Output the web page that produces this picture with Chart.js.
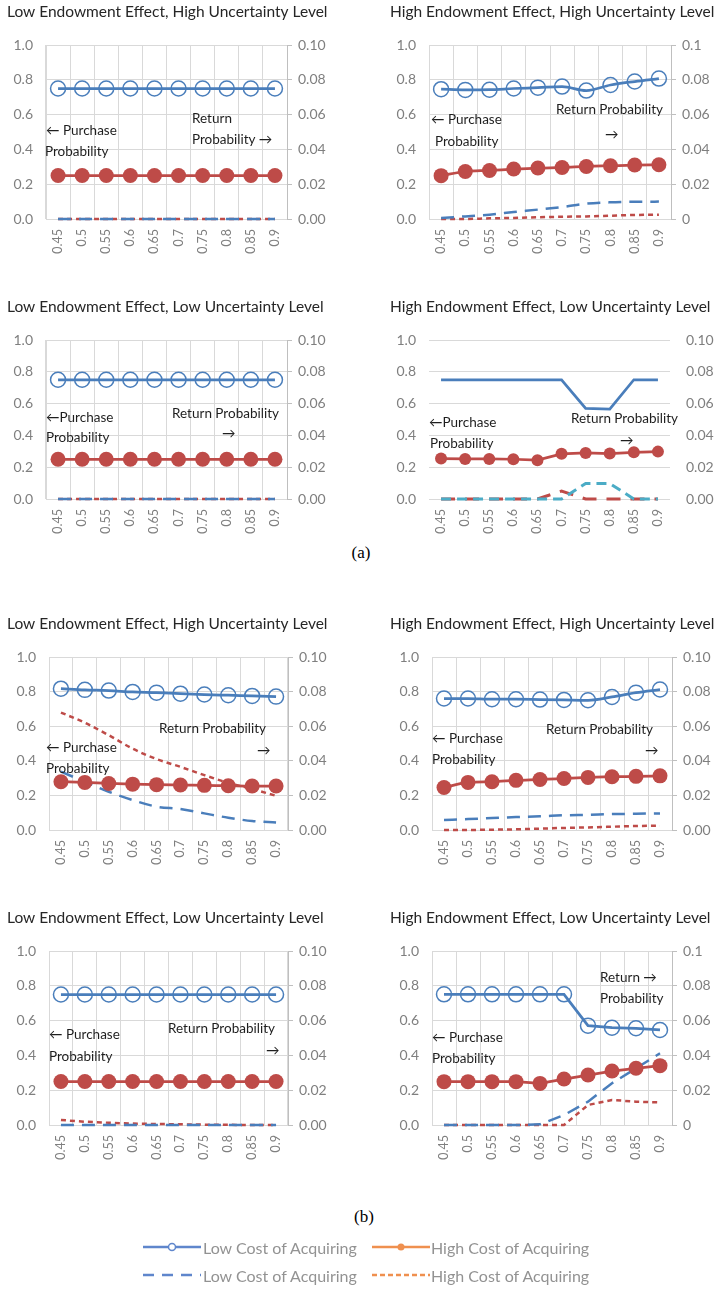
<!DOCTYPE html>
<html>
<head>
<meta charset="utf-8">
<script src="https://cdn.jsdelivr.net/npm/chart.js@4.4.1/dist/chart.umd.min.js"></script>
<style>
  body { margin: 0; background: #fff; width: 722px; height: 1294px; position: relative; overflow: hidden; font-family: Lato, 'Open Sans', sans-serif; }
  canvas { position: absolute; }
  .note { position: absolute; font: 13.5px Lato, 'DejaVu Sans', sans-serif; color: #1e1e1e; white-space: nowrap; transform: translateY(-50%); }
  .cap { position: absolute; font: 17px 'Liberation Serif', serif; color: #000; transform: translate(-50%, -50%); }
  #legend { position: absolute; left: 0; top: 0; width: 722px; height: 1294px; filter: blur(0.6px); opacity: .85; pointer-events: none; }
  #legend svg { position: absolute; }
  #legend span { position: absolute; font: 16px Lato, sans-serif; color: #808080; transform: translateY(-50%); white-space: nowrap; }
</style>
</head>
<body>
<div class="cap" style="left:361px;top:553px">(a)</div>
<div class="cap" style="left:364px;top:1217px">(b)</div>

<div id="legend">
  <svg style="left:143px;top:1240px" width="58" height="14"><line x1="0" y1="7" x2="58" y2="7" stroke="#4472C4" stroke-width="2.5"/><circle cx="29" cy="7" r="3.5" fill="#fff" stroke="#4472C4" stroke-width="1.5"/></svg>
  <span style="left:203px;top:1247px">Low Cost of Acquiring</span>
  <svg style="left:372px;top:1240px" width="58" height="14"><line x1="0" y1="7" x2="58" y2="7" stroke="#ED7D31" stroke-width="2.5"/><circle cx="29" cy="7" r="3.5" fill="#ED7D31"/></svg>
  <span style="left:431px;top:1247px">High Cost of Acquiring</span>
  <svg style="left:143px;top:1268px" width="58" height="14"><line x1="0" y1="7" x2="58" y2="7" stroke="#4472C4" stroke-width="2.5" stroke-dasharray="11 8"/></svg>
  <span style="left:203px;top:1275px">Low Cost of Acquiring</span>
  <svg style="left:372px;top:1268px" width="58" height="14"><line x1="0" y1="7" x2="58" y2="7" stroke="#ED7D31" stroke-width="2.5" stroke-dasharray="5 3"/></svg>
  <span style="left:431px;top:1275px">High Cost of Acquiring</span>
</div>

<script>
/* shared x categories */
var X_LABELS = ['0.45', '0.5', '0.55', '0.6', '0.65', '0.7', '0.75', '0.8', '0.85', '0.9'];

/* (a) Low endowment, high uncertainty */
var A_LH_BUY_LOW  = [0.75, 0.75, 0.75, 0.75, 0.75, 0.75, 0.75, 0.75, 0.75, 0.75];
var A_LH_BUY_HIGH = [0.25, 0.25, 0.25, 0.25, 0.25, 0.25, 0.25, 0.25, 0.25, 0.25];
var A_LH_RET_LOW  = [0, 0, 0, 0, 0, 0, 0, 0, 0, 0];
var A_LH_RET_HIGH = [0, 0, 0, 0, 0, 0, 0, 0, 0, 0];

/* (a) High endowment, high uncertainty */
var A_HH_BUY_LOW  = [0.746, 0.742, 0.743, 0.75, 0.755, 0.761, 0.738, 0.77, 0.79, 0.807];
var A_HH_BUY_HIGH = [0.249, 0.273, 0.279, 0.287, 0.293, 0.296, 0.302, 0.306, 0.31, 0.312];
var A_HH_RET_LOW  = [0.0006, 0.0015, 0.0025, 0.004, 0.0054, 0.0069, 0.0088, 0.0096, 0.0099, 0.01];
var A_HH_RET_HIGH = [0, 0, 0.0004, 0.0006, 0.001, 0.0013, 0.0015, 0.0019, 0.0023, 0.0025];

/* (a) Low endowment, low uncertainty */
var A_LL_BUY_LOW  = [0.75, 0.75, 0.75, 0.75, 0.75, 0.75, 0.75, 0.75, 0.75, 0.75];
var A_LL_BUY_HIGH = [0.25, 0.25, 0.25, 0.25, 0.25, 0.25, 0.25, 0.25, 0.25, 0.25];
var A_LL_RET_LOW  = [0, 0, 0, 0, 0, 0, 0, 0, 0, 0];
var A_LL_RET_HIGH = [0, 0, 0, 0, 0, 0, 0, 0, 0, 0];

/* (a) High endowment, low uncertainty */
var A_HL_BUY_LOW  = [0.75, 0.75, 0.75, 0.75, 0.75, 0.75, 0.57, 0.565, 0.75, 0.75];
var A_HL_BUY_HIGH = [0.254, 0.252, 0.252, 0.25, 0.244, 0.284, 0.29, 0.286, 0.294, 0.298];
var A_HL_RET_LOW  = [0, 0, 0, 0, 0, 0, 0.0098, 0.0098, 0, 0];
var A_HL_RET_HIGH = [0, 0, 0, 0, 0, 0.005, 0, 0, 0, 0];

/* (b) Low endowment, high uncertainty */
var B_LH_BUY_LOW  = [0.817, 0.81, 0.806, 0.798, 0.794, 0.788, 0.783, 0.779, 0.775, 0.771];
var B_LH_BUY_HIGH = [0.279, 0.275, 0.269, 0.265, 0.262, 0.26, 0.258, 0.256, 0.254, 0.254];
var B_LH_RET_LOW  = [0.0337, 0.0279, 0.0221, 0.0173, 0.0135, 0.0121, 0.0096, 0.0071, 0.0052, 0.0044];
var B_LH_RET_HIGH = [0.0679, 0.062, 0.0548, 0.047, 0.041, 0.0365, 0.0317, 0.0273, 0.0237, 0.0198];

/* (b) High endowment, high uncertainty */
var B_HH_BUY_LOW  = [0.76, 0.76, 0.756, 0.756, 0.754, 0.752, 0.75, 0.769, 0.794, 0.812];
var B_HH_BUY_HIGH = [0.246, 0.275, 0.279, 0.287, 0.292, 0.298, 0.304, 0.308, 0.31, 0.313];
var B_HH_RET_LOW  = [0.0058, 0.0063, 0.0069, 0.0075, 0.0079, 0.0085, 0.0088, 0.0092, 0.0094, 0.0096];
var B_HH_RET_HIGH = [0, 0, 0.0002, 0.0004, 0.0008, 0.0012, 0.0015, 0.0019, 0.0023, 0.0025];

/* (b) Low endowment, low uncertainty */
var B_LL_BUY_LOW  = [0.75, 0.75, 0.75, 0.75, 0.75, 0.75, 0.75, 0.75, 0.75, 0.75];
var B_LL_BUY_HIGH = [0.25, 0.25, 0.25, 0.25, 0.25, 0.25, 0.25, 0.25, 0.25, 0.25];
var B_LL_RET_LOW  = [0, 0, 0, 0, 0, 0, 0, 0, 0, 0];
var B_LL_RET_HIGH = [0.0029, 0.0019, 0.0013, 0.0008, 0.0006, 0.0004, 0.0002, 0.0001, 0, 0];

/* (b) High endowment, low uncertainty */
var B_HL_BUY_LOW  = [0.751, 0.751, 0.751, 0.751, 0.751, 0.751, 0.571, 0.559, 0.556, 0.546];
var B_HL_BUY_HIGH = [0.249, 0.249, 0.249, 0.249, 0.239, 0.264, 0.287, 0.31, 0.326, 0.341];
var B_HL_RET_LOW  = [0, 0, 0, 0, 0.0004, 0.0057, 0.0134, 0.024, 0.0326, 0.0412];
var B_HL_RET_HIGH = [0, 0, 0, 0, 0, 0, 0.0115, 0.0144, 0.0134, 0.013];

var BLUE = '#4A7EBB', RED = '#BE4B48', TEAL = '#4BACC6';
var GRID = '#D9D9D9', AXIS = '#BFBFBF', TICK = '#7F7F7F';

/* area = plot box in page px; notes = [text, x, y] */
var PANELS = [
  { title: 'Low Endowment Effect, High Uncertainty Level', x0: 0, area: { left: 46, right: 287, top: 45, bottom: 219 },
    data: [A_LH_BUY_LOW, A_LH_BUY_HIGH, A_LH_RET_LOW, A_LH_RET_HIGH], smooth: true,
    notes: [['\u2190 Purchase', 46, 130], ['Probability', 45, 151], ['Return', 192, 118], ['Probability \u2192', 192, 139]] },
  { title: 'High Endowment Effect, High Uncertainty Level', x0: 361, area: { left: 429, right: 671, top: 45, bottom: 219 },
    data: [A_HH_BUY_LOW, A_HH_BUY_HIGH, A_HH_RET_LOW, A_HH_RET_HIGH], smooth: true, shortTicks: true,
    notes: [['\u2190 Purchase', 431, 119], ['Probability', 435, 141], ['Return Probability', 556, 109], ['\u2192', 605, 134]] },
  { title: 'Low Endowment Effect, Low Uncertainty Level', x0: 0, area: { left: 46, right: 287, top: 340, bottom: 499 },
    data: [A_LL_BUY_LOW, A_LL_BUY_HIGH, A_LL_RET_LOW, A_LL_RET_HIGH], smooth: true,
    notes: [['\u2190Purchase', 46, 417], ['Probability', 46, 437], ['Return Probability', 172, 413], ['\u2192', 222, 433]] },
  { title: 'High Endowment Effect, Low Uncertainty Level', x0: 361, area: { left: 429, right: 670, top: 340, bottom: 499 },
    data: [A_HL_BUY_LOW, A_HL_BUY_HIGH, A_HL_RET_LOW, A_HL_RET_HIGH], smooth: false, plain: true,
    notes: [['\u2190Purchase', 429, 422], ['Probability', 430, 443], ['Return Probability', 571, 418], ['\u2192', 620, 440]] },
  { title: 'Low Endowment Effect, High Uncertainty Level', x0: 0, area: { left: 49, right: 288, top: 657, bottom: 830 },
    data: [B_LH_BUY_LOW, B_LH_BUY_HIGH, B_LH_RET_LOW, B_LH_RET_HIGH], smooth: true,
    notes: [['\u2190 Purchase', 46, 747], ['Probability', 46, 768], ['Return Probability', 159, 728], ['\u2192', 257, 750]] },
  { title: 'High Endowment Effect, High Uncertainty Level', x0: 361, area: { left: 432, right: 672, top: 657, bottom: 830 },
    data: [B_HH_BUY_LOW, B_HH_BUY_HIGH, B_HH_RET_LOW, B_HH_RET_HIGH], smooth: true,
    notes: [['\u2190 Purchase', 432, 738], ['Probability', 432, 759], ['Return Probability', 546, 729], ['\u2192', 645, 750]] },
  { title: 'Low Endowment Effect, Low Uncertainty Level', x0: 0, area: { left: 49, right: 288, top: 951, bottom: 1125 },
    data: [B_LL_BUY_LOW, B_LL_BUY_HIGH, B_LL_RET_LOW, B_LL_RET_HIGH], smooth: true,
    notes: [['\u2190 Purchase', 49, 1034], ['Probability', 49, 1056], ['Return Probability', 168, 1028], ['\u2192', 266, 1050]] },
  { title: 'High Endowment Effect, Low Uncertainty Level', x0: 361, area: { left: 432, right: 672, top: 951, bottom: 1125 },
    data: [B_HL_BUY_LOW, B_HL_BUY_HIGH, B_HL_RET_LOW, B_HL_RET_HIGH], smooth: false, shortTicks: true,
    notes: [['\u2190 Purchase', 432, 1037], ['Probability', 432, 1058], ['Return  \u2192', 600, 977], ['Probability', 600, 998]] }
];

var TITLE_H = 45, XAXIS_H = 50;

function makePanel(p) {
  var W = 361, top = p.area.top - TITLE_H, H = p.area.bottom - top + XAXIS_H;
  var titleX = p.x0 === 0 ? 7 : 29;
  var yW = p.area.left - p.x0 - titleX, y1W = p.x0 + W - p.area.right;

  var cv = document.createElement('canvas');
  cv.width = W; cv.height = H;
  cv.style.left = p.x0 + 'px'; cv.style.top = top + 'px';
  cv.style.width = W + 'px'; cv.style.height = H + 'px';
  document.body.appendChild(cv);

  var interp = p.smooth ? { cubicInterpolationMode: 'monotone' } : { tension: 0 };
  var sets = [
    { data: p.data[0], yAxisID: 'y', borderColor: BLUE, borderWidth: 2.75,
      pointRadius: p.plain ? 0 : 7.5, pointBorderWidth: 1.5, pointBackgroundColor: 'rgba(0,0,0,0)', pointBorderColor: BLUE },
    { data: p.data[1], yAxisID: 'y', borderColor: RED, borderWidth: 2.75,
      pointRadius: p.plain ? 6 : 7.5, pointBorderWidth: 0, pointBackgroundColor: RED },
    { data: p.data[2], yAxisID: 'y1', borderColor: p.plain ? TEAL : BLUE, borderWidth: p.plain ? 3 : 2.5,
      borderDash: p.plain ? [10, 6] : [13, 8], pointRadius: 0 },
    { data: p.data[3], yAxisID: 'y1', borderColor: RED, borderWidth: p.plain ? 3 : 2.5,
      borderDash: p.plain ? [14, 10] : [5, 4], pointRadius: 0 }
  ];
  sets.forEach(function (d) { Object.assign(d, interp); d.clip = 10; d.fill = false; });

  var tickFont = { family: 'Lato', size: 14 };
  new Chart(cv, {
    type: 'line',
    data: { labels: X_LABELS, datasets: sets },
    options: {
      responsive: false, animation: false, events: [],
      layout: { padding: { left: titleX, right: 0, top: 0, bottom: 0 } },
      plugins: {
        legend: { display: false }, tooltip: { enabled: false },
        title: { display: true, text: p.title, align: 'start', color: '#262626',
                 font: { family: 'Lato', size: 15.5, weight: 'normal', lineHeight: 1.2 },
                 padding: { top: 3, bottom: TITLE_H - 3 - 18.6 } }
      },
      scales: {
        x: {
          offset: true,
          grid: { display: !p.plain, offset: true, color: GRID, drawTicks: false },
          border: { display: !p.plain, color: GRID },
          ticks: { color: TICK, font: { family: 'Lato', size: 12.5 }, minRotation: 90, maxRotation: 90, padding: 10, autoSkip: false },
          afterFit: function (s) { s.height = XAXIS_H; }
        },
        y: {
          position: 'left', min: 0, max: 1,
          grid: { color: GRID, drawTicks: false },
          border: { display: !p.plain, color: GRID },
          ticks: { stepSize: 0.2, color: TICK, font: tickFont, padding: 13,
                   callback: function (v) { return v.toFixed(1); } },
          afterFit: function (s) { s.width = yW; }
        },
        y1: {
          position: 'right', min: 0, max: 0.1,
          grid: { display: !p.plain, drawOnChartArea: false, color: AXIS, tickLength: 5 },
          border: { display: !p.plain, color: AXIS },
          ticks: { stepSize: 0.02, color: TICK, font: tickFont, padding: p.plain ? 11 : 6,
                   callback: function (v) { return p.shortTicks ? String(Number(v.toFixed(2))) : v.toFixed(2); } },
          afterFit: function (s) { s.width = y1W; }
        }
      }
    }
  });

  p.notes.forEach(function (n) {
    var el = document.createElement('div');
    el.className = 'note';
    el.textContent = n[0];
    el.style.left = n[1] + 'px'; el.style.top = n[2] + 'px';
    document.body.appendChild(el);
  });
}

PANELS.forEach(makePanel);
</script>
</body>
</html>
